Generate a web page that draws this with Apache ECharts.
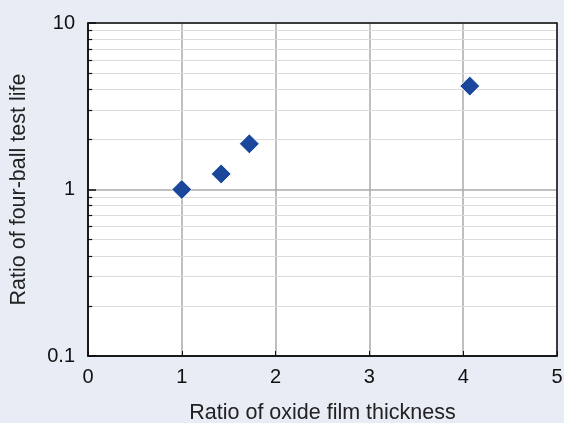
<!DOCTYPE html>
<html>
<head>
<meta charset="utf-8">
<script src="https://cdn.jsdelivr.net/npm/echarts@6/dist/echarts.min.js"></script>
<style>
  html, body { margin: 0; padding: 0; background: #e8ecf5; }
  #chart { width: 564px; height: 423px; }
</style>
</head>
<body>
<div id="chart"></div>
<script>
// data
var oxideRatio = [1.0, 1.42, 1.72, 4.07]
var lifeRatio = [1.0, 1.24, 1.88, 4.18]
var xTicks = [0, 1, 2, 3, 4, 5]
var minorY = [0.2, 0.3, 0.4, 0.5, 0.6, 0.7, 0.8, 0.9, 2, 3, 4, 5, 6, 7, 8, 9]

var points = oxideRatio.map(function (x, i) { return [x, lifeRatio[i]] })

// minor grid lines across the plot + short inward ticks on the left edge
var minorLines = minorY.map(function (v) {
  return [{ coord: [0, v] }, { coord: [5, v] }]
})
var minorTicks = minorY.map(function (v) {
  return [{ coord: [0, v] }, { coord: [0.045, v] }]
})

var myChart = echarts.init(document.getElementById('chart'))
myChart.setOption({
  backgroundColor: '#e8ecf5',
  textStyle: { fontFamily: 'Liberation Sans, Arial, sans-serif' },
  grid: {
    left: 88, right: 7, top: 23, bottom: 67,
    containLabel: false, outerBoundsMode: 'none',
    show: true, backgroundColor: '#fff', borderWidth: 0
  },
  xAxis: {
    type: 'value',
    min: 0,
    max: 5,
    interval: 1,
    name: 'Ratio of oxide film thickness',
    nameLocation: 'middle',
    nameGap: 46,
    nameTextStyle: { fontSize: 21.5, color: '#222' },
    axisLine: { show: true, onZero: false, lineStyle: { color: '#111', width: 1.5 } },
    axisTick: { show: true, inside: true, length: 5, lineStyle: { color: '#111' } },
    axisLabel: { fontSize: 20, color: '#111', margin: 11 },
    splitLine: { show: true, lineStyle: { color: '#aaa', width: 1.5 } }
  },
  yAxis: {
    type: 'log',
    logBase: 10,
    min: 0.1,
    max: 10,
    name: 'Ratio of four-ball test life',
    nameLocation: 'middle',
    nameGap: 58,
    nameTextStyle: { fontSize: 21.5, color: '#222' },
    axisLine: { show: true, lineStyle: { color: '#111', width: 1.5 } },
    axisTick: { show: true, inside: true, length: 8, lineStyle: { color: '#111', width: 1.5 } },
    axisLabel: { fontSize: 20, color: '#111', margin: 13, formatter: function (v) { return String(v) } },
    splitLine: { show: true, lineStyle: { color: '#aaa', width: 1.5 } }
  },
  series: [
    {
      type: 'line',
      data: [],
      silent: true,
      markLine: {
        silent: true,
        symbol: 'none',
        label: { show: false },
        lineStyle: { color: '#dcdcdc', width: 1, type: 'solid' },
        data: minorLines
      }
    },
    {
      type: 'line',
      data: [],
      silent: true,
      markLine: {
        silent: true,
        symbol: 'none',
        label: { show: false },
        lineStyle: { color: '#111', width: 1.2, type: 'solid' },
        data: minorTicks
      }
    },
    {
      type: 'scatter',
      data: points,
      symbol: 'diamond',
      symbolSize: [20, 20],
      itemStyle: { color: '#1a479b', opacity: 1, borderColor: '#fff', borderWidth: 1 },
      z: 10
    }
  ]
})
// black frame round the plot
myChart.setOption({
  graphic: [{
    type: 'rect',
    shape: { x: 88, y: 23, width: 469, height: 333 },
    style: { fill: 'none', stroke: '#111', lineWidth: 1.5 },
    z: 100
  }]
})
</script>
</body>
</html>
